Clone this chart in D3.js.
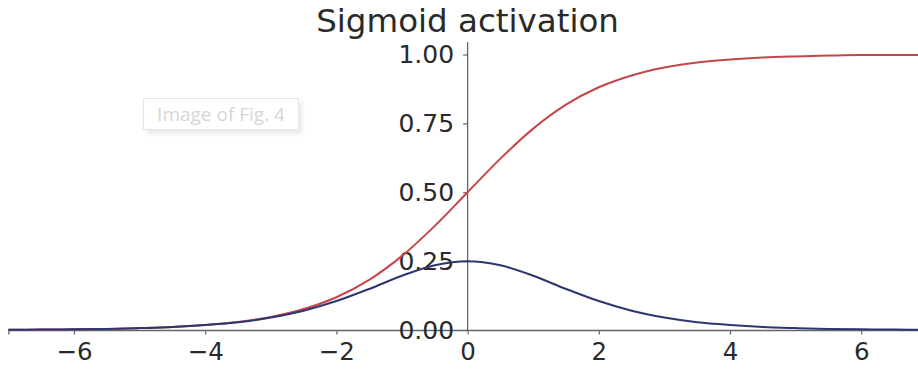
<!DOCTYPE html>
<html>
<head>
<meta charset="utf-8">
<script src="https://cdn.jsdelivr.net/npm/d3@7"></script>
<style>
  html, body { margin: 0; padding: 0; background: #fff; }
  svg { display: block; }
</style>
</head>
<body>
<svg id="chart" width="918" height="370"></svg>
<script>
// Sample points of the sigmoid and its derivative
const xs = [-7, -6.5, -6, -5.5, -5, -4.5, -4, -3.5, -3, -2.5, -2, -1.5, -1, -0.5,
            0, 0.5, 1, 1.5, 2, 2.5, 3, 3.5, 4, 4.5, 5, 5.5, 6, 6.5, 7];
const sigmoidValues = [0.001, 0.0015, 0.0025, 0.004, 0.007, 0.011, 0.018, 0.029, 0.047, 0.076,
                       0.119, 0.182, 0.269, 0.378, 0.5, 0.622, 0.731, 0.818, 0.881, 0.924,
                       0.953, 0.971, 0.982, 0.989, 0.993, 0.996, 0.998, 0.998, 0.999];
const derivativeValues = [0.001, 0.0015, 0.0025, 0.004, 0.007, 0.011, 0.018, 0.028, 0.045, 0.070,
                          0.105, 0.149, 0.197, 0.235, 0.25, 0.235, 0.197, 0.149, 0.105, 0.070,
                          0.045, 0.028, 0.018, 0.011, 0.007, 0.004, 0.0025, 0.0015, 0.001];
const xTicks = [-6, -4, -2, 0, 2, 4, 6];
const yTicks = [0, 0.25, 0.5, 0.75, 1.0];
const titleText = "Sigmoid activation";
const noteText = "Image of Fig. 4";

const svg = d3.select("#chart");
const x = d3.scaleLinear().domain([-7, 7]).range([8.4, 926.8]);
const y = d3.scaleLinear().domain([0, 1]).range([330, 54.5]);

const defs = svg.append("defs");
defs.append("filter").attr("id", "soft")
  .attr("x", "-20%").attr("y", "-20%").attr("width", "140%").attr("height", "160%")
  .append("feGaussianBlur").attr("stdDeviation", 2);

// Faint figure placeholder box
const note = svg.append("g");
note.append("rect").attr("x", 147).attr("y", 102).attr("width", 155).attr("height", 32)
  .attr("fill", "#e9e9e9").attr("filter", "url(#soft)");
note.append("rect").attr("x", 143.5).attr("y", 98.5).attr("width", 155).attr("height", 31)
  .attr("fill", "#fff").attr("stroke", "#e4e4e4").attr("stroke-width", 1);
note.append("text").attr("x", 221).attr("y", 121).attr("text-anchor", "middle")
  .attr("font-family", "Open Sans, sans-serif").attr("font-size", 19)
  .attr("fill", "#d6d6d6").text(noteText);

// Axes through the origin
const xAxis = d3.axisBottom(x).tickValues(xTicks).tickSize(4.5).tickPadding(8)
  .tickFormat(d => d3.format("")(d).replace("-", "\u2212"));
const gx = svg.append("g").attr("transform", `translate(0,${y(0)})`).call(xAxis);
gx.select(".domain").attr("stroke", "#666").attr("stroke-width", 1.3);
gx.selectAll(".tick line").attr("stroke", "#666").attr("stroke-width", 1.2);
gx.selectAll(".tick text").attr("font-family", "DejaVu Sans, sans-serif")
  .attr("font-size", 24.5).attr("fill", "#2a2a2a");

const yAxis = d3.axisLeft(y).tickValues(yTicks).tickSize(4.5).tickPadding(9)
  .tickFormat(d3.format(".2f"));
const gy = svg.append("g").attr("transform", `translate(${x(0)},0)`).call(yAxis);
gy.select(".domain").attr("d", `M0,${y(1.045)}V${y(0)}`).attr("stroke", "#666").attr("stroke-width", 1.3);
gy.selectAll(".tick line").attr("stroke", "#666").attr("stroke-width", 1.2);
gy.selectAll(".tick text").attr("font-family", "DejaVu Sans, sans-serif")
  .attr("font-size", 25).attr("fill", "#2a2a2a");

// Curves
const line = d3.line().x(d => x(d[0])).y(d => y(d[1])).curve(d3.curveMonotoneX);
svg.append("path").datum(xs.map((v, i) => [v, sigmoidValues[i]]))
  .attr("d", line).attr("fill", "none").attr("stroke", "#c4464b").attr("stroke-width", 2);
svg.append("path").datum(xs.map((v, i) => [v, derivativeValues[i]]))
  .attr("d", line).attr("fill", "none").attr("stroke", "#2e3670").attr("stroke-width", 2);

// Title
svg.append("text").attr("x", x(0)).attr("y", 32).attr("text-anchor", "middle")
  .attr("font-family", "DejaVu Sans, sans-serif").attr("font-size", 32.5)
  .attr("fill", "#2a2a2a").text(titleText);
</script>
</body>
</html>
